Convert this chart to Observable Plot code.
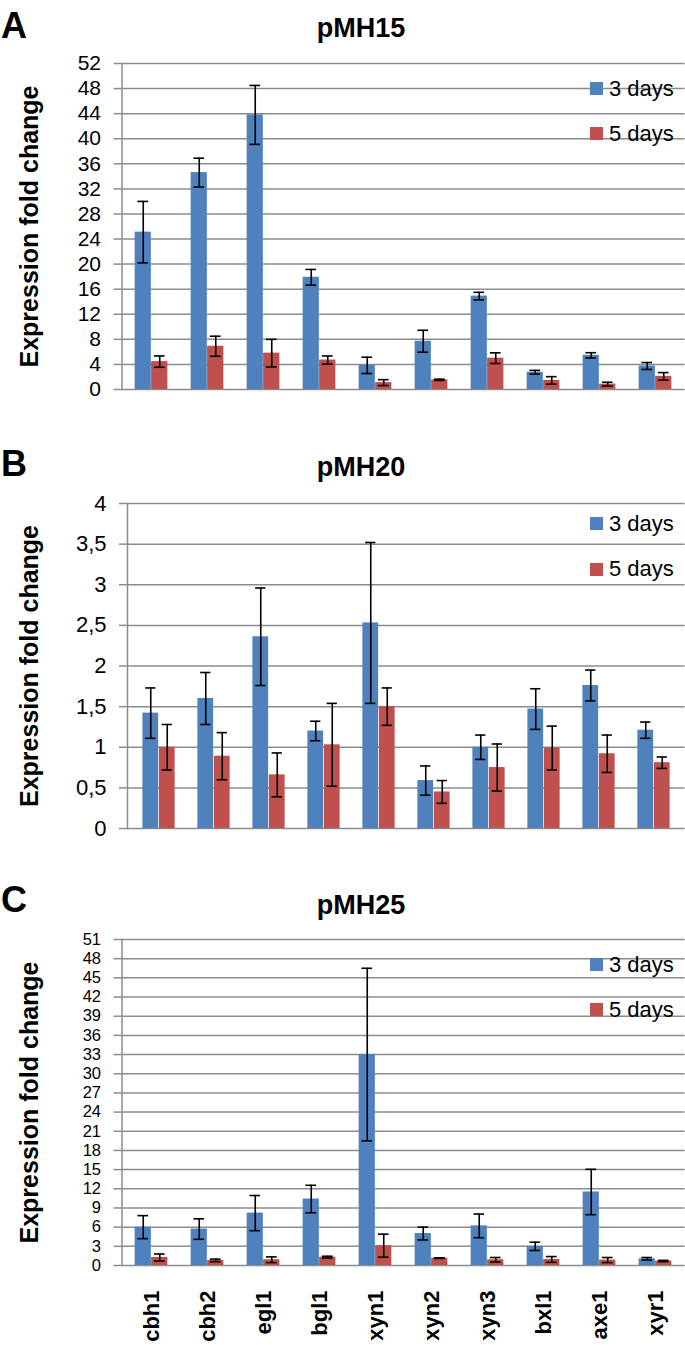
<!DOCTYPE html>
<html>
<head>
<meta charset="utf-8">
<script src="https://cdn.jsdelivr.net/npm/d3@7"></script>
<script src="https://cdn.jsdelivr.net/npm/@observablehq/plot@0.6"></script>
<style>
  body { margin: 0; background: #fff; }
  #wrap { position: relative; width: 685px; height: 1345px; overflow: hidden; font-family: "Liberation Sans", Arial, sans-serif; color: #000; }
  .abs { position: absolute; line-height: 1; white-space: nowrap; }
  .letter { font-weight: bold; font-size: 36px; }
  .title { font-weight: bold; font-size: 27px; transform: translateX(-50%); }
  .leg { font-size: 22px; }
  .sw { position: absolute; width: 13px; height: 13px; }
  .plot { position: absolute; left: 0; }
</style>
</head>
<body>
<div id="wrap"></div>
<script>
// ---- data ----
const genes = ["cbh1", "cbh2", "egl1", "bgl1", "xyn1", "xyn2", "xyn3", "bxl1", "axe1", "xyr1"];
const seriesNames = ["3 days", "5 days"];
const seriesColors = ["#4F81BD", "#C0504D"];
const yTitle = "Expression fold change";

const pMH15_3d    = [25.1, 34.6, 43.8, 17.9, 3.85, 7.7, 14.9, 2.75, 5.45, 3.75];
const pMH15_3d_sd = [4.9, 2.3, 4.7, 1.25, 1.3, 1.75, 0.6, 0.3, 0.42, 0.55];
const pMH15_5d    = [4.45, 6.9, 5.8, 4.7, 1.1, 1.55, 5.0, 1.45, 0.85, 2.1];
const pMH15_5d_sd = [0.9, 1.6, 2.2, 0.65, 0.47, 0.1, 0.85, 0.6, 0.3, 0.6];

const pMH20_3d    = [1.42, 1.60, 2.36, 1.20, 2.53, 0.59, 1.00, 1.47, 1.76, 1.21];
const pMH20_3d_sd = [0.31, 0.32, 0.60, 0.12, 0.99, 0.18, 0.15, 0.25, 0.19, 0.10];
const pMH20_5d    = [1.00, 0.89, 0.66, 1.03, 1.50, 0.45, 0.75, 0.99, 0.92, 0.81];
const pMH20_5d_sd = [0.28, 0.29, 0.27, 0.51, 0.23, 0.14, 0.29, 0.27, 0.23, 0.07];

const pMH25_3d    = [6.0, 5.7, 8.2, 10.4, 33.0, 5.0, 6.2, 3.0, 11.5, 1.05];
const pMH25_3d_sd = [1.8, 1.6, 2.75, 2.15, 13.5, 1.0, 1.85, 0.65, 3.55, 0.2];
const pMH25_5d    = [1.25, 0.8, 0.9, 1.3, 3.1, 1.15, 0.9, 0.95, 0.85, 0.7];
const pMH25_5d_sd = [0.55, 0.2, 0.45, 0.15, 1.8, 0.05, 0.35, 0.45, 0.4, 0.1];

const ticksA = [0, 4, 8, 12, 16, 20, 24, 28, 32, 36, 40, 44, 48, 52];
const ticksB = [0, 0.5, 1, 1.5, 2, 2.5, 3, 3.5, 4];
const ticksC = [0, 3, 6, 9, 12, 15, 18, 21, 24, 27, 30, 33, 36, 39, 42, 45, 48, 51];
const tickLabelsB = ["0", "0,5", "1", "1,5", "2", "2,5", "3", "3,5", "4"];

// ---- helpers ----
const W = 685;
const wrap = document.getElementById("wrap");

function rows(means, sds, s) {
  return genes.map((g, i) => ({gene: g, series: s, value: means[i], lo: means[i] - sds[i], hi: means[i] + sds[i]}));
}

function addDiv(cls, text, left, top) {
  const d = document.createElement("div");
  d.className = "abs " + cls;
  d.textContent = text;
  d.style.left = left + "px";
  d.style.top = top + "px";
  wrap.appendChild(d);
  return d;
}

function makePanel(cfg) {
  const marginRight = 0.5;
  const bw = (W - cfg.marginLeft - marginRight) / genes.length;
  const barW = 16.5, capW = 11;
  const grid = {stroke: "#8c8c8c", strokeOpacity: 1, strokeWidth: 1.5};
  const marks = [
    Plot.gridY(cfg.ticks, grid),
    Plot.axisY(cfg.ticks, {tickSize: 8, tickPadding: 13, tickFormat: cfg.fmt, fontSize: cfg.tickFont, label: null,
      stroke: "#8c8c8c", strokeWidth: 1.5, fill: "#000"}),
    Plot.frame({anchor: "left", ...grid})
  ];
  const datasets = cfg.series.map(([m, s], k) => rows(m, s, seriesNames[k]));
  datasets.forEach((data, k) => {
    const dx = (k === 0 ? -1 : 1) * barW / 2;
    marks.push(Plot.barY(data, {x: "gene", y: "value", fill: seriesColors[k],
      insetLeft: (bw - barW) / 2, insetRight: (bw - barW) / 2, dx}));
  });
  datasets.forEach((data, k) => {
    const dx = (k === 0 ? -1 : 1) * barW / 2;
    const err = {stroke: "#000", strokeWidth: 1.6};
    marks.push(Plot.ruleX(data, {x: "gene", y1: "lo", y2: "hi", dx, ...err}));
    marks.push(Plot.tickY(data, {x: "gene", y: "hi", dx, insetLeft: (bw - capW) / 2, insetRight: (bw - capW) / 2, ...err}));
    marks.push(Plot.tickY(data, {x: "gene", y: "lo", dx, insetLeft: (bw - capW) / 2, insetRight: (bw - capW) / 2, ...err}));
  });
  marks.push(Plot.text([yTitle], {text: d => d, frameAnchor: "left", rotate: -90, dx: -(cfg.marginLeft - 20),
    lineAnchor: "top", textAnchor: "middle", fontSize: 25, fontWeight: "bold", fill: "#000"}));
  if (cfg.xLabels) {
    marks.push(Plot.axisX({tickRotate: -90, tickSize: 0, tickPadding: 25, fontSize: 22, fontWeight: "bold",
      fill: "#000", label: null}));
  }
  const svg = Plot.plot({
    width: W,
    height: cfg.height,
    marginTop: cfg.marginTop,
    marginBottom: cfg.marginBottom,
    marginLeft: cfg.marginLeft,
    marginRight,
    x: cfg.xLabels ? {domain: genes, padding: 0} : {domain: genes, padding: 0, axis: null},
    y: {domain: cfg.domain},
    style: {fontFamily: '"Liberation Sans", Arial, sans-serif', background: "transparent", overflow: "visible"},
    marks
  });
  const holder = document.createElement("div");
  holder.className = "plot";
  holder.style.top = cfg.top + "px";
  holder.appendChild(svg);
  wrap.appendChild(holder);

  addDiv("letter", cfg.letter, 1, cfg.letterBase - 30.5);
  addDiv("title", cfg.title, 361, cfg.titleBase - 22.9);
  cfg.legendY.forEach((cy, k) => {
    const sw = document.createElement("div");
    sw.className = "sw";
    sw.style.left = "590px";
    sw.style.top = (cy - 6.5) + "px";
    sw.style.background = seriesColors[k];
    wrap.appendChild(sw);
    addDiv("leg", seriesNames[k], 609, cy - 10.7);
  });
}

makePanel({letter: "A", title: "pMH15", top: 50, height: 347, marginTop: 13, marginBottom: 8, marginLeft: 121.5,
  domain: [0, 52], ticks: ticksA, fmt: d => String(d), tickFont: 21,
  series: [[pMH15_3d, pMH15_3d_sd], [pMH15_5d, pMH15_5d_sd]],
  letterBase: 38, titleBase: 38, legendY: [88.5, 133.5], xLabels: false});

makePanel({letter: "B", title: "pMH20", top: 490, height: 346, marginTop: 13, marginBottom: 8, marginLeft: 127,
  domain: [0, 4], ticks: ticksB, fmt: d => tickLabelsB[ticksB.indexOf(d)], tickFont: 22,
  series: [[pMH20_3d, pMH20_3d_sd], [pMH20_5d, pMH20_5d_sd]],
  letterBase: 476, titleBase: 477, legendY: [523.5, 569], xLabels: false});

makePanel({letter: "C", title: "pMH25", top: 925, height: 420, marginTop: 14, marginBottom: 80, marginLeft: 121.5,
  domain: [0, 51], ticks: ticksC, fmt: d => String(d), tickFont: 16.5,
  series: [[pMH25_3d, pMH25_3d_sd], [pMH25_5d, pMH25_5d_sd]],
  letterBase: 912, titleBase: 915, legendY: [964.5, 1009.5], xLabels: true});
</script>
</body>
</html>
